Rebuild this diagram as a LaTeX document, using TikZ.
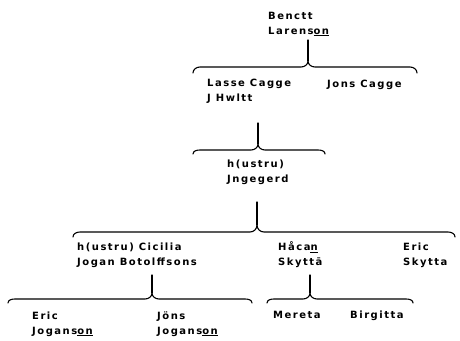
\documentclass[tikz,border=0pt]{standalone}
\usepackage{fontspec}
\setmainfont{DejaVu Sans}[BoldFont={DejaVu Sans Bold}]
\newfontfamily\namefont{DejaVu Sans Bold}[LetterSpace=15]
\begin{document}
\begin{tikzpicture}[x=1pt,y=-1pt,
  person/.style={inner sep=0pt,anchor=base west,align=left,
    font=\namefont\fontsize{10}{14.5}\selectfont},
  bracket/.style={line width=1.1pt,line cap=round,line join=round}]
\useasboundingbox (0,0) rectangle (460,340);
% people (anchor = baseline of the last line)
\node[person] (benctt) at (268,34) {Benctt\\Larens\underline{on}};
\node[person] (lasse) at (207,101) {Lasse Cagge\\J Hwltt};
\node[person] (jons) at (327,87) {Jons Cagge};
\node[person] (jngegerd) at (227,182) {h(ustru)\\Jngegerd};
\node[person] (cicilia) at (77,265) {h(ustru) Cicilia\\Jogan Botolffsons};
\node[person] (hacan) at (278,265) {Håca\underline{n}\\Skytt\=a};
\node[person] (ericS) at (403,265) {Eric\\Skytta};
\node[person] (ericJ) at (32,334) {Eric\\Jogans\underline{on}};
\node[person] (jonsJ) at (157,334) {Jöns\\Jogans\underline{on}};
\node[person] (mereta) at (273,318) {Mereta};
\node[person] (birgitta) at (350,318) {Birgitta};
% brackets: L R C top yh yend yj
\newcommand\famBracket[7]{%
  \draw[bracket] (#3,#4) -- (#3,#7);
  \draw[bracket] (#1,#6) to[out=90,in=180] (#1+7,#5) -- (#3-7,#5)
     to[out=0,in=-90] (#3,#7) to[out=-90,in=180] (#3+7,#5) -- (#2-7,#5)
     to[out=0,in=90] (#2,#6);}
\famBracket{193}{417}{308}{40}{67}{73}{61}
\famBracket{193}{325}{258}{123}{150}{154}{144}
\famBracket{73}{455}{257}{202}{232}{237}{225}
\famBracket{8}{252}{152}{275}{299}{303}{293}
\famBracket{267}{413}{310}{275}{299}{303}{293}
\end{tikzpicture}
\end{document}
